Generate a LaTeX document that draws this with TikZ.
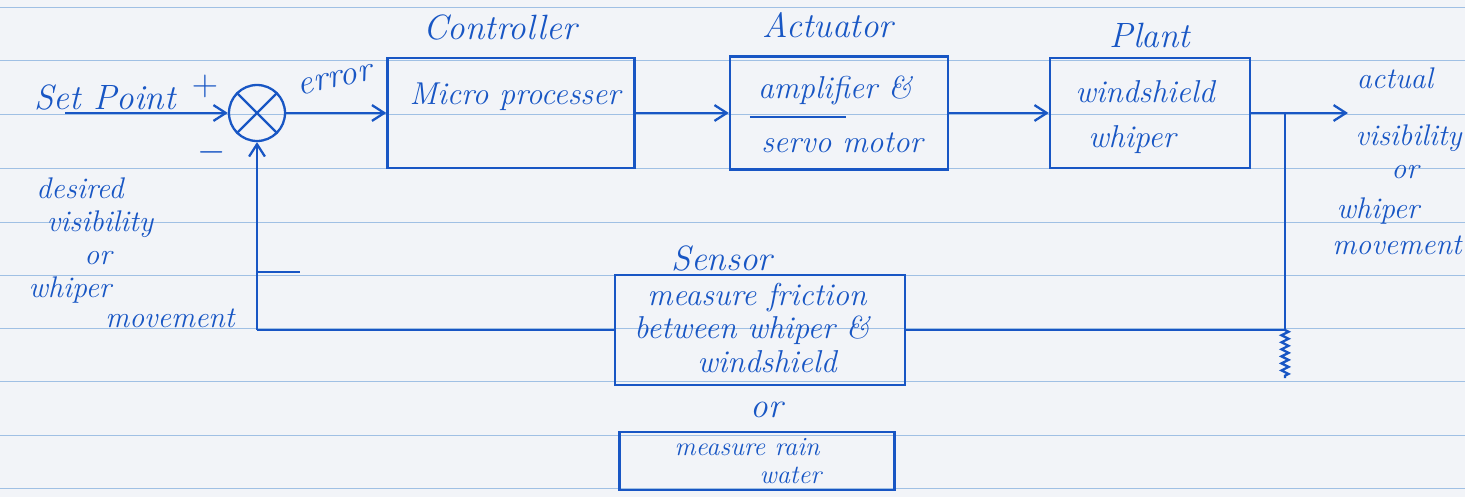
\documentclass[tikz,border=0pt]{standalone}
\usepackage{tikz}
\usetikzlibrary{arrows.meta,decorations.pathmorphing}
\definecolor{ink}{RGB}{24,86,196}
\definecolor{rule}{RGB}{160,192,228}
\definecolor{paper}{RGB}{242,244,248}
\tikzset{
	blk/.style={draw=ink, line width=1.3pt, rectangle, inner sep=0pt},
	hand/.style={text=ink, font=\fontsize{20}{24}\selectfont\itshape, inner sep=0pt, anchor=center},
	inbox/.style={hand, font=\fontsize{18}{22}\selectfont\itshape},
	side/.style={hand, font=\fontsize{17}{20}\selectfont\itshape},
	conn/.style={draw=ink, line width=1.3pt},
	tip/.style={-{Straight Barb[length=7pt,width=9pt]}}
}
\begin{document}
\begin{tikzpicture}[x=0.02cm, y=-0.02cm]
		% paper
		\fill[paper] (0,0) rectangle (1465,497);
		\useasboundingbox (0,0) rectangle (1465,497);
		\foreach \r in {7,60,114,168,222,275,328,381,435,488}
			\draw[rule, thin] (0,\r) -- (1465,\r);
		% blocks
		\node[blk, circle, minimum size=1.12cm] (sum) at (257,113) {};
		\draw[conn] (sum.north west) -- (sum.south east);
		\draw[conn] (sum.north east) -- (sum.south west);
		\node[blk, minimum width=4.94cm, minimum height=2.2cm] (ctrl) at (511,113) {};
		\node[blk, minimum width=4.36cm, minimum height=2.26cm] (act) at (839,113) {};
		\node[blk, minimum width=4.00cm, minimum height=2.2cm] (plant) at (1150,113) {};
		\node[blk, minimum width=5.80cm, minimum height=2.2cm] (sens) at (760,330) {};
		\node[blk, minimum width=5.50cm, minimum height=1.16cm] (rain) at (757,461) {};
		% texts
		\node[hand] (setpt) at (105,97) {Set Point};
		\node[hand] (plus) at (205,86) {$+$};
		\node[hand] (minus) at (212,152) {$-$};
		\node[hand, rotate=12] (err) at (335,80) {error};
		\node[hand] (ctrllbl) at (500,27) {Controller};
		\node[inbox] (ctrltxt) at (515,97) {Micro processer};
		\node[hand] (actlbl) at (828,25) {Actuator};
		\node[inbox] (acttxt1) at (835,90) {amplifier \&};
		\node[inbox] (acttxt2) at (842,143) {servo motor};
		\node[hand] (plantlbl) at (1150,35) {Plant};
		\node[inbox] (planttxt1) at (1145,92) {windshield};
		\node[inbox] (planttxt2) at (1132,140) {whiper};
		\node[hand] (senslbl) at (722,258) {Sensor};
		\node[inbox] (senstxt1) at (757,298) {measure friction};
		\node[inbox] (senstxt2) at (752,330) {between whiper \&};
		\node[inbox] (senstxt3) at (767,362) {windshield};
		\node[hand] (orlbl) at (767,410) {or};
		\node[side, align=left, font=\fontsize{15}{16}\selectfont\itshape] (raintxt) at (748,461)
			{measure rain\\\hspace*{1.7cm}water};
		\node[side] (des1) at (80,188) {desired};
		\node[side] (des2) at (100,224) {visibility};
		\node[side] (des3) at (98,258) {or};
		\node[side] (des4) at (70,290) {whiper};
		\node[side] (des5) at (170,318) {movement};
		\node[side] (out1) at (1395,78) {actual};
		\node[side, anchor=east] (out2) at (1462,138) {visibility};
		\node[side] (out3) at (1405,172) {or};
		\node[side] (out4) at (1378,211) {whiper};
		\node[side, anchor=east] (out5) at (1462,245) {movement};
		% forward path
		\coordinate (sp) at (65,113);
		\coordinate (tap) at (1285,113);
		\coordinate (out) at (1348,113);
		\draw[conn, tip] (sp) -- (sum.west);
		\draw[conn, tip] (sum.east) -- (ctrl.west);
		\draw[conn, tip] (ctrl.east) -- (act.west);
		\draw[conn, tip] (act.east) -- (plant.west);
		\draw[conn] (plant.east) -- (tap);
		\draw[conn, tip] (tap) -- (out);
		\draw[conn] ([xshift=12]act.west) ++(0,4) -- ++(96,0);
		% feedback path
		\coordinate (fbj) at (1285,330);
		\coordinate (gnd) at (1285,378);
		\coordinate (fbl) at (257,330);
		\coordinate (stuba) at (257,272);
		\coordinate (stubb) at (300,272);
		\draw[conn] (tap) -- (fbj);
		\draw[conn, decorate, decoration={zigzag, amplitude=2pt, segment length=4pt}] (fbj) -- (gnd);
		\draw[conn] (fbj) -- (sens.east);
		\draw[conn] (sens.west) -- (fbl);
		\draw[conn, tip] (fbl) -- (sum.south);
		\draw[conn] (stuba) -- (stubb);
	\end{tikzpicture}
\end{document}
